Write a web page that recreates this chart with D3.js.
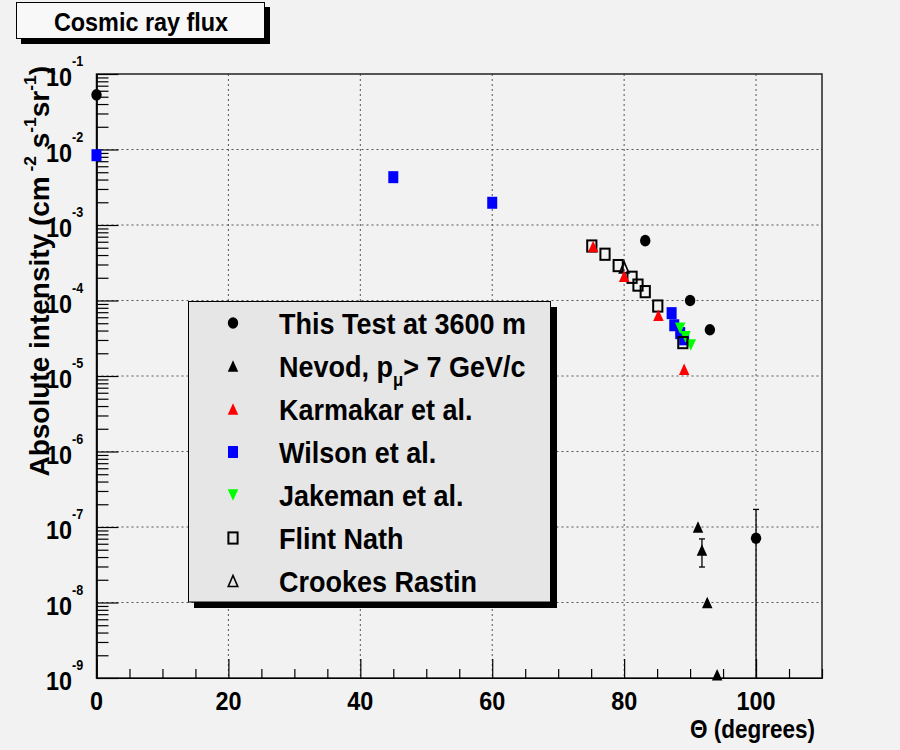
<!DOCTYPE html>
<html>
<head>
<meta charset="utf-8">
<script src="https://cdn.jsdelivr.net/npm/d3@7"></script>
<style>
  body { margin: 0; background: #f2f2f2; }
  svg { display: block; }
  text { font-family: "Liberation Sans", Arial, Helvetica, sans-serif; font-weight: bold; fill: #000; }
</style>
</head>
<body>
<svg id="chart" width="900" height="750"></svg>
<script>
// ---- Data: zenith angle (degrees) vs. absolute muon intensity (cm^-2 s^-1 sr^-1) ----
const thisTestTheta = [0, 83.2, 90, 93, 100];
const thisTestFlux  = [5.3e-2, 6.2e-4, 1.0e-4, 4.1e-5, 7.1e-8];
const thisTestErr   = [0, 0, 0, 0, 1.0e-7];

const nevodTheta = [91.2, 91.8, 92.6, 94.1];
const nevodFlux  = [1.0e-7, 4.95e-8, 1.0e-8, 1.1e-9];
const nevodErr   = [0, 2.0e-8, 0, 0];

const karmakarTheta = [75.3, 80.0, 85.2, 89.1];
const karmakarFlux  = [5.2e-4, 2.1e-4, 6.4e-5, 1.23e-5];

const wilsonTheta = [0, 45, 60, 87.2, 87.6, 88.5, 89.1];
const wilsonFlux  = [8.4e-3, 4.3e-3, 1.97e-3, 6.8e-5, 4.7e-5, 3.7e-5, 3.06e-5];

const jakemanTheta = [88.5, 89.3, 90.1];
const jakemanFlux  = [4.3e-5, 3.3e-5, 2.57e-5];

const flintTheta = [75.1, 77.1, 79.1, 81.2, 82.1, 83.2, 85.1, 88.9];
const flintFlux  = [5.27e-4, 4.1e-4, 2.9e-4, 2.03e-4, 1.6e-4, 1.31e-4, 8.45e-5, 2.77e-5];

const crookesTheta = [80.0];
const crookesFlux  = [2.75e-4];

// axis tick labels
const xTickValues = [0, 20, 40, 60, 80, 100];
const yDecadeExponents = [-1, -2, -3, -4, -5, -6, -7, -8, -9];

// legend entries (label parts: plain text and subscripts)
const legendLabels = [
  [{t: "This Test at 3600 m"}],
  [{t: "Nevod, p"}, {t: "\u03bc", sub: true}, {t: "> 7 GeV/c"}],
  [{t: "Karmakar et al."}],
  [{t: "Wilson et al."}],
  [{t: "Jakeman et al."}],
  [{t: "Flint Nath"}],
  [{t: "Crookes Rastin"}]
];

// ---- Layout ----
const svg = d3.select("#chart");
svg.append("rect").attr("width", 900).attr("height", 750).attr("fill", "#f2f2f2");

const frame = {left: 96.5, right: 822, top: 74, bottom: 678};
const x = d3.scaleLinear().domain([0, 110]).range([frame.left, frame.right]);
const y = d3.scaleLog().domain([1e-9, 1e-1]).range([frame.bottom, frame.top]);

// text helper: bold type (optionally condensed), with super/subscripts
function addText(parent, px, py, size, anchor, parts, rotate, sx) {
  const g = parent.append("g")
    .attr("transform", `translate(${px},${py})` + (rotate ? ` rotate(${rotate})` : "") + ` scale(${sx || 0.9},1)`);
  const t = g.append("text").attr("text-anchor", anchor).style("font-size", size + "px");
  let prev = 0;
  parts.forEach(p => {
    const shift = p.sup ? -size * 0.45 : p.sub ? size * 0.3 : 0;
    t.append("tspan")
      .attr("dy", shift - prev)
      .style("font-size", (p.sup || p.sub ? size * 0.62 : size) + "px")
      .text(p.t);
    prev = shift;
  });
  return t;
}

// ---- Grid ----
const grid = svg.append("g").attr("stroke", "#555").attr("stroke-width", 1).attr("stroke-dasharray", "2,3");
grid.selectAll("line.gx").data(xTickValues.filter(v => v > 0)).join("line")
  .attr("x1", d => x(d)).attr("x2", d => x(d)).attr("y1", frame.top).attr("y2", frame.bottom);
grid.selectAll("line.gy").data(yDecadeExponents.map(e => Math.pow(10, e)).filter(v => v > 1e-9 && v < 1e-1)).join("line")
  .attr("x1", frame.left).attr("x2", frame.right).attr("y1", d => y(d)).attr("y2", d => y(d));

// ---- Frame ----
svg.append("rect")
  .attr("x", frame.left).attr("y", frame.top)
  .attr("width", frame.right - frame.left).attr("height", frame.bottom - frame.top)
  .attr("fill", "none").attr("stroke", "#222").attr("stroke-width", 1.5);

// ---- Axes (ticks pointing into the frame) ----
const xAxisMinor = d3.axisBottom(x).tickValues(x.ticks(22).filter(v => v % 20 !== 0))
  .tickSize(-9).tickSizeOuter(0).tickFormat("");
const xAxisMajor = d3.axisBottom(x).tickValues(xTickValues)
  .tickSize(-19).tickSizeOuter(0).tickFormat("");
[xAxisMinor, xAxisMajor].forEach(ax => {
  const g = svg.append("g").attr("transform", `translate(0,${frame.bottom})`).call(ax);
  g.selectAll("line,path").attr("stroke", "#000").attr("stroke-width", 1.2);
});

const yAxisMinor = d3.axisLeft(y).tickValues(y.ticks().filter(v => Math.abs(Math.log10(v) - Math.round(Math.log10(v))) > 1e-6))
  .tickSize(-12).tickSizeOuter(0).tickFormat("");
const yAxisMajor = d3.axisLeft(y).tickValues(yDecadeExponents.map(e => Math.pow(10, e)))
  .tickSize(-22).tickSizeOuter(0).tickFormat("");
[yAxisMinor, yAxisMajor].forEach(ax => {
  const g = svg.append("g").attr("transform", `translate(${frame.left},0)`).call(ax);
  g.selectAll("line,path").attr("stroke", "#000").attr("stroke-width", 1.2);
});

// tick labels
const labels = svg.append("g");
xTickValues.forEach(v => addText(labels, x(v), 710, 26, "middle", [{t: String(v)}]));
yDecadeExponents.forEach(e => {
  const py = y(Math.pow(10, e));
  addText(labels, 72, py + 12, 26, "end", [{t: "10"}]);
  addText(labels, 72, py - 8, 14, "start", [{t: String(e)}]);
});

// axis titles
addText(svg, 815, 738, 25, "end", [{t: "\u0398 (degrees)"}]);
addText(svg, 49, 66, 28, "end", [
  {t: "Absolute intensity (cm"}, {t: " -2", sup: true}, {t: " s"}, {t: "-1", sup: true},
  {t: "sr"}, {t: "-1", sup: true}, {t: ")"}
], -90, 1);

// ---- Markers ----
function markerPath(type, w, h) {
  const a = w / 2, b = h / 2;
  if (type === "triUp") return `M${-a},${b}L${a},${b}L0,${-b}Z`;
  if (type === "triDown") return `M${-a},${-b}L${a},${-b}L0,${b}Z`;
  return "";
}

function drawMarker(g, style, cx, cy) {
  const s = style;
  if (s.type === "circle") {
    g.append("ellipse").attr("cx", cx).attr("cy", cy).attr("rx", 5.2).attr("ry", 5.8).attr("fill", s.color);
  } else if (s.type === "square") {
    g.append("rect").attr("x", cx - 5).attr("y", cy - 6).attr("width", 10).attr("height", 12).attr("fill", s.color);
  } else if (s.type === "openSquare") {
    g.append("rect").attr("x", cx - 4.6).attr("y", cy - 5.6).attr("width", 9.2).attr("height", 11.2)
      .attr("fill", "none").attr("stroke", "#000").attr("stroke-width", 2);
  } else if (s.type === "openTri") {
    g.append("path").attr("transform", `translate(${cx},${cy})`).attr("d", markerPath("triUp", 9.5, 11))
      .attr("fill", "none").attr("stroke", "#000").attr("stroke-width", 1.6);
  } else {
    g.append("path").attr("transform", `translate(${cx},${cy})`).attr("d", markerPath(s.type, 10.5, 11.5))
      .attr("fill", s.color);
  }
}

const styles = {
  thisTest: {type: "circle", color: "#000"},
  nevod: {type: "triUp", color: "#000"},
  karmakar: {type: "triUp", color: "#ff0000"},
  wilson: {type: "square", color: "#0000ff"},
  jakeman: {type: "triDown", color: "#00ff00"},
  flint: {type: "openSquare", color: "#000"},
  crookes: {type: "openTri", color: "#000"}
};

const series = [
  {key: "wilson", theta: wilsonTheta, flux: wilsonFlux},
  {key: "jakeman", theta: jakemanTheta, flux: jakemanFlux},
  {key: "flint", theta: flintTheta, flux: flintFlux},
  {key: "crookes", theta: crookesTheta, flux: crookesFlux},
  {key: "karmakar", theta: karmakarTheta, flux: karmakarFlux},
  {key: "nevod", theta: nevodTheta, flux: nevodFlux, err: nevodErr},
  {key: "thisTest", theta: thisTestTheta, flux: thisTestFlux, err: thisTestErr}
];

const plot = svg.append("g");
series.forEach(s => {
  const pts = s.theta.map((t, i) => ({t, f: s.flux[i], e: s.err ? s.err[i] : 0}));
  // vertical error bars (lower edge runs to the axis when it drops below zero)
  const eg = plot.append("g").attr("stroke", "#000").attr("stroke-width", 1.3);
  pts.filter(p => p.e > 0).forEach(p => {
    const top = y(p.f + p.e);
    const low = p.f - p.e;
    const bottom = low > 0 ? Math.min(y(low), frame.bottom) : frame.bottom;
    eg.append("line").attr("x1", x(p.t)).attr("x2", x(p.t)).attr("y1", top).attr("y2", bottom);
    eg.append("line").attr("x1", x(p.t) - 3).attr("x2", x(p.t) + 3).attr("y1", top).attr("y2", top);
    if (low > 0) eg.append("line").attr("x1", x(p.t) - 3).attr("x2", x(p.t) + 3).attr("y1", bottom).attr("y2", bottom);
  });
  const mg = plot.append("g");
  pts.forEach(p => drawMarker(mg, styles[s.key], x(p.t), y(p.f)));
});

// ---- Legend ----
const legendOrder = ["thisTest", "nevod", "karmakar", "wilson", "jakeman", "flint", "crookes"];
const lg = svg.append("g");
lg.append("rect").attr("x", 194).attr("y", 307).attr("width", 363).attr("height", 301).attr("fill", "#000");
lg.append("rect").attr("x", 188.5).attr("y", 301.5).attr("width", 362).attr("height", 300.5)
  .attr("fill", "#e6e6e6").attr("stroke", "#000").attr("stroke-width", 1);
const rowY = d3.scalePoint().domain(legendOrder).range([323, 581]);
legendOrder.forEach((k, i) => {
  drawMarker(lg, styles[k], 233, rowY(k));
  addText(lg, 279, rowY(k) + 11, 30, "start", legendLabels[i]);
});

// ---- Title box ----
const tb = svg.append("g");
tb.append("rect").attr("x", 21).attr("y", 7).attr("width", 249).attr("height", 37).attr("fill", "#000");
tb.append("rect").attr("x", 16.5).attr("y", 2.5).attr("width", 248).attr("height", 36)
  .attr("fill", "#f8f8f8").attr("stroke", "#000").attr("stroke-width", 1);
addText(tb, 141, 31, 26, "middle", [{t: "Cosmic ray flux"}]);
</script>
</body>
</html>
